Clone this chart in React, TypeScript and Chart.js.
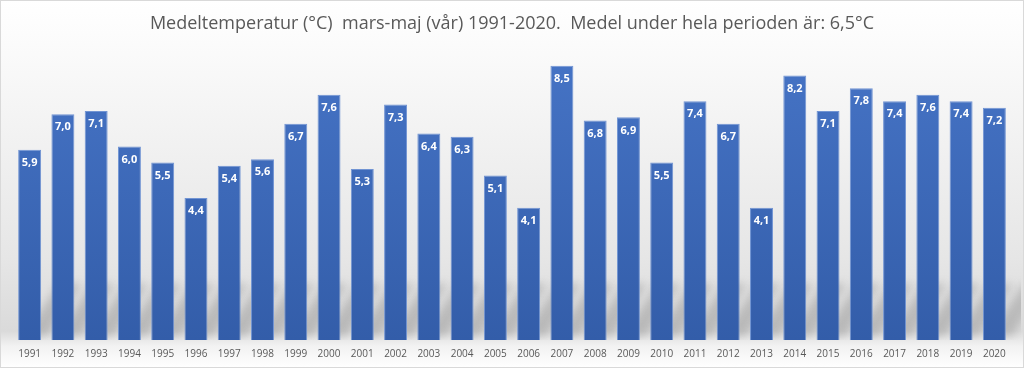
import React, { useEffect, useRef } from "react";
import { Chart, registerables } from "chart.js";

Chart.register(...registerables);

const years: string[] = [
  "1991", "1992", "1993", "1994", "1995", "1996", "1997", "1998", "1999", "2000",
  "2001", "2002", "2003", "2004", "2005", "2006", "2007", "2008", "2009", "2010",
  "2011", "2012", "2013", "2014", "2015", "2016", "2017", "2018", "2019", "2020",
];
const springMeanTemp: number[] = [
  5.9, 7.0, 7.1, 6.0, 5.5, 4.4, 5.4, 5.6, 6.7, 7.6,
  5.3, 7.3, 6.4, 6.3, 5.1, 4.1, 8.5, 6.8, 6.9, 5.5,
  7.4, 6.7, 4.1, 8.2, 7.1, 7.8, 7.4, 7.6, 7.4, 7.2,
];
const titleText = "Medeltemperatur (°C)  mars-maj (vår) 1991-2020.  Medel under hela perioden är: 6,5°C";

const FONT = "'Open Sans', 'Noto Sans', sans-serif";

const backgroundPlugin = {
  id: "panelBackground",
  beforeDraw(chart: any) {
    const { ctx, width, height } = chart;
    ctx.save();
    const g = ctx.createLinearGradient(0, 0, 0, height);
    g.addColorStop(0, "#ffffff");
    g.addColorStop(0.12, "#fbfbfb");
    g.addColorStop(0.7, "#e6e6e6");
    g.addColorStop(0.9, "#dadada");
    g.addColorStop(0.94, "#f2f2f2");
    g.addColorStop(1, "#ffffff");
    ctx.fillStyle = g;
    ctx.fillRect(0, 0, width, height);
    ctx.restore();
  },
  beforeDatasetsDraw(chart: any) {
    const { ctx, chartArea } = chart;
    const meta = chart.getDatasetMeta(0);
    ctx.save();
    ctx.beginPath();
    ctx.rect(chartArea.left - 10, chartArea.bottom - 70, chartArea.right - chartArea.left + 20, 70);
    ctx.clip();
    ctx.filter = "blur(4px)";
    ctx.fillStyle = "rgba(110,110,110,0.3)";
    meta.data.forEach((bar: any) => {
      const half = bar.width / 2;
      const b = chartArea.bottom - 4;
      const h = 52;
      const dx = 34;
      ctx.beginPath();
      ctx.moveTo(bar.x - half + 6, b);
      ctx.lineTo(bar.x + half + 6, b);
      ctx.lineTo(bar.x + half + 6 + dx, b - h);
      ctx.lineTo(bar.x - half + 6 + dx, b - h);
      ctx.closePath();
      ctx.fill();
    });
    ctx.restore();
  },
  afterDatasetsDraw(chart: any) {
    const { ctx } = chart;
    const meta = chart.getDatasetMeta(0);
    ctx.save();
    ctx.fillStyle = "#ffffff";
    ctx.font = `bold 11px ${FONT}`;
    ctx.textAlign = "center";
    ctx.textBaseline = "middle";
    meta.data.forEach((bar: any, i: number) => {
      const v = springMeanTemp[i];
      ctx.fillText(v.toFixed(1).replace(".", ","), bar.x, bar.y + 13);
    });
    ctx.restore();
  },
  afterDraw(chart: any) {
    const { ctx, width, height } = chart;
    ctx.save();
    ctx.strokeStyle = "#d9d9d9";
    ctx.lineWidth = 1;
    ctx.strokeRect(0.5, 0.5, width - 1, height - 1);
    ctx.restore();
  },
};

export default function App() {
  const canvasRef = useRef<HTMLCanvasElement | null>(null);

  useEffect(() => {
    const canvas = canvasRef.current;
    if (!canvas) return;
    const chart = new Chart(canvas, {
      type: "bar",
      data: {
        labels: years,
        datasets: [
          {
            data: springMeanTemp,
            backgroundColor: (c: any) => {
              const area = c.chart.chartArea;
              if (!area) return "#4472c4";
              const g = c.chart.ctx.createLinearGradient(0, area.top, 0, area.bottom);
              g.addColorStop(0, "#4674c6");
              g.addColorStop(1, "#335da9");
              return g;
            },
            borderColor: "#7194d3",
            borderWidth: 1,
            categoryPercentage: 1,
            barPercentage: 0.69,
          },
        ],
      },
      plugins: [backgroundPlugin],
      options: {
        responsive: false,
        animation: false,
        devicePixelRatio: 1,
        layout: { padding: { left: 13, right: 13, top: 13, bottom: 0 } },
        plugins: {
          legend: { display: false },
          tooltip: { enabled: false },
          title: {
            display: true,
            text: titleText,
            color: "#595959",
            font: { family: FONT, size: 18, weight: "normal" },
            padding: { top: 0, bottom: 15 },
          },
        },
        scales: {
          x: {
            grid: { display: false, drawTicks: false },
            border: { display: false },
            ticks: {
              color: "#595959",
              font: { family: FONT, size: 10 },
              padding: 8,
              maxRotation: 0,
              autoSkip: false,
            },
          },
          y: {
            display: false,
            min: 0,
            max: 9,
          },
        },
      },
    });
    return () => chart.destroy();
  }, []);

  return (
    <div style={{ position: "fixed", left: 0, top: 0, width: 1024, height: 368 }}>
      <canvas ref={canvasRef} width={1024} height={368} style={{ width: 1024, height: 368 }} />
    </div>
  );
}
